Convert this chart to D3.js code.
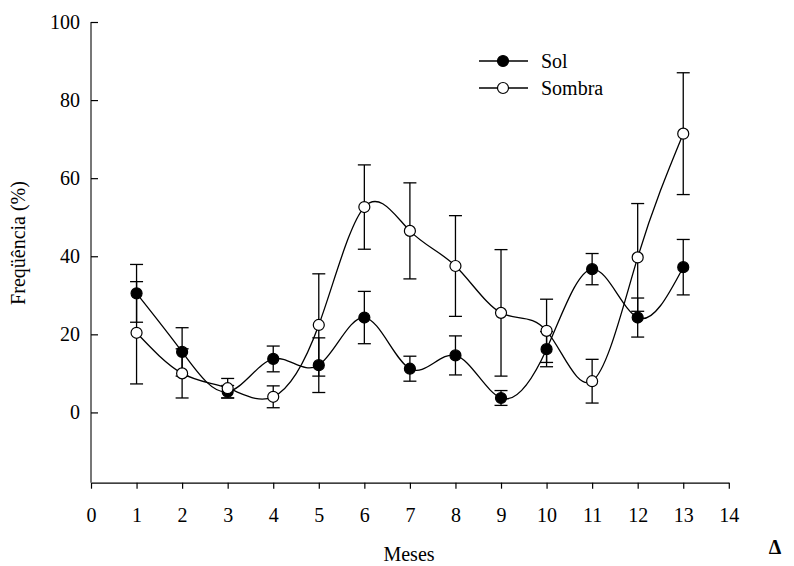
<!DOCTYPE html>
<html>
<head>
<meta charset="utf-8">
<script src="https://cdn.jsdelivr.net/npm/d3@7"></script>
<style>
    body { margin: 0; background: #fff; }
</style>
</head>
<body>
<div id="chart"></div>
<script>
// months on the x axis
const months = [1, 2, 3, 4, 5, 6, 7, 8, 9, 10, 11, 12, 13];

// frequency (%) and error (+/-)
const solValues = [30.5, 15.5, 5.3, 13.7, 12.1, 24.3, 11.2, 14.6, 3.7, 16.2, 36.7, 24.3, 37.2];
const solErrors = [7.4, 6.2, 1.6, 3.3, 7.0, 6.7, 3.2, 5.0, 1.9, 4.5, 4.0, 5.0, 7.1];

const sombraValues = [20.4, 10.0, 6.2, 4.0, 22.4, 52.6, 46.5, 37.5, 25.5, 20.9, 8.0, 39.7, 71.4];
const sombraErrors = [13.1, 6.3, 2.5, 2.8, 13.1, 10.8, 12.3, 12.9, 16.2, 8.1, 5.6, 13.8, 15.6];

const xTicks = [0, 1, 2, 3, 4, 5, 6, 7, 8, 9, 10, 11, 12, 13, 14];
const yTicks = [0, 20, 40, 60, 80, 100];

const series = [
    { name: 'Sol', values: solValues, errors: solErrors, fill: '#000' },
    { name: 'Sombra', values: sombraValues, errors: sombraErrors, fill: '#fff' }
];

const width = 794, height = 566;
const capHalf = 6.5, radius = 5.5;
const serif = "'Liberation Serif', 'Times New Roman', Times, 'DejaVu Serif', serif";

const svg = d3.select('#chart').append('svg')
    .attr('width', width)
    .attr('height', height)
    .attr('font-family', serif);

const x = d3.scaleLinear().domain([0, 14]).range([91, 728.8]);
const y = d3.scaleLinear().domain([-18, 100]).range([482.7, 22]);

// x axis, ticks pointing down
const xAxis = svg.append('g')
    .attr('transform', `translate(0, ${y(-18)})`)
    .call(d3.axisBottom(x).tickValues(xTicks).tickSize(6).tickSizeOuter(0).tickPadding(19))
xAxis.attr('font-family', serif).attr('font-size', 20);
xAxis.select('.domain').attr('stroke', '#000').attr('stroke-width', 1.2);
xAxis.selectAll('.tick line').attr('stroke', '#000').attr('stroke-width', 1.2);
xAxis.selectAll('text').style('font-family', serif).style('font-size', '20px');

// y axis, ticks pointing into the plot
const yAxis = svg.append('g')
    .attr('transform', `translate(${x(0)}, 0)`)
    .call(d3.axisLeft(y).tickValues(yTicks).tickSize(-7).tickSizeOuter(0).tickPadding(11))
yAxis.attr('font-family', serif).attr('font-size', 20);
yAxis.select('.domain').attr('stroke', '#555').attr('stroke-width', 1.6)
    .attr('d', `M0,${y(100)}V${y(-18)}`);
yAxis.selectAll('.tick line').attr('stroke', '#000').attr('stroke-width', 1.2);
yAxis.selectAll('text').style('font-family', serif).style('font-size', '20px');

svg.append('text')
    .attr('transform', `translate(25, 243) rotate(-90)`)
    .attr('text-anchor', 'middle')
    .style('font-family', serif)
    .style('font-size', '20px')
    .text('Freqüência (%)');

svg.append('text')
    .attr('x', 409)
    .attr('y', 561)
    .attr('text-anchor', 'middle')
    .style('font-family', serif)
    .style('font-size', '20px')
    .text('Meses');

svg.append('text')
    .attr('x', 775)
    .attr('y', 554)
    .attr('text-anchor', 'middle')
    .style('font-family', serif)
    .style('font-size', '20px')
    .style('font-weight', 'bold')
    .text('Δ');

const line = d3.line()
    .x((d, i) => x(months[i]))
    .y(d => y(d))
    .curve(d3.curveNatural);

// error bars first, then curves, then markers on top
for (const s of series) {
    const g = svg.append('g').attr('class', 'errors');
    const bars = g.selectAll('g')
        .data(s.values.map((v, i) => ({ m: months[i], v: v, e: s.errors[i] })))
        .enter().append('g')
        .attr('stroke', '#000')
        .attr('stroke-width', 1.3);
    bars.append('line')
        .attr('x1', d => x(d.m)).attr('x2', d => x(d.m))
        .attr('y1', d => y(d.v + d.e)).attr('y2', d => y(d.v - d.e));
    bars.append('line')
        .attr('x1', d => x(d.m) - capHalf).attr('x2', d => x(d.m) + capHalf)
        .attr('y1', d => y(d.v + d.e)).attr('y2', d => y(d.v + d.e));
    bars.append('line')
        .attr('x1', d => x(d.m) - capHalf).attr('x2', d => x(d.m) + capHalf)
        .attr('y1', d => y(d.v - d.e)).attr('y2', d => y(d.v - d.e));
}

for (const s of series) {
    svg.append('path')
        .attr('d', line(s.values))
        .attr('fill', 'none')
        .attr('stroke', '#000')
        .attr('stroke-width', 1.3);
}

for (const s of series) {
    svg.append('g').selectAll('circle')
        .data(s.values).enter()
        .append('circle')
        .attr('cx', (d, i) => x(months[i]))
        .attr('cy', d => y(d))
        .attr('r', radius)
        .attr('fill', s.fill)
        .attr('stroke', '#000')
        .attr('stroke-width', 1.2);
}

// legend
const legend = svg.append('g').attr('class', 'legend');
series.forEach((s, i) => {
    const ly = 61 + i * 27;
    legend.append('line')
        .attr('x1', 479).attr('x2', 528)
        .attr('y1', ly).attr('y2', ly)
        .attr('stroke', '#000').attr('stroke-width', 1.3);
    legend.append('circle')
        .attr('cx', 503).attr('cy', ly).attr('r', radius)
        .attr('fill', s.fill).attr('stroke', '#000').attr('stroke-width', 1.2);
    legend.append('text')
        .attr('x', 541).attr('y', ly + 7)
        .style('font-family', serif)
        .style('font-size', '20px')
        .text(s.name);
});
</script>
</body>
</html>
